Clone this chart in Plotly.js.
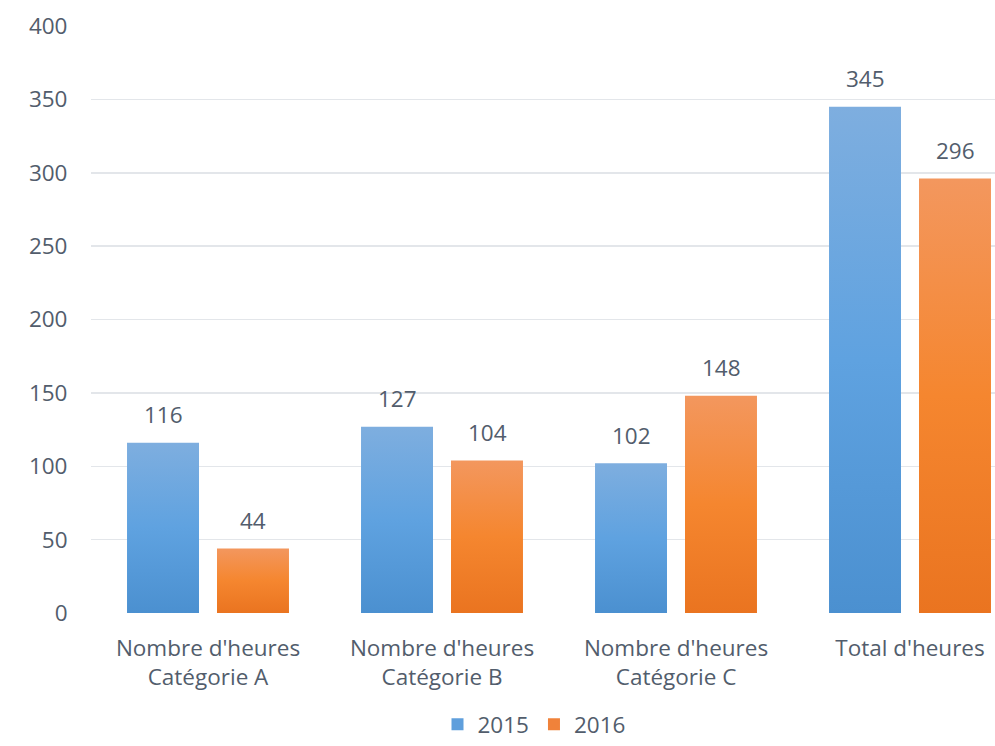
<!DOCTYPE html>
<html>
<head>
<meta charset="utf-8">
<script src="https://cdn.plot.ly/plotly-3.0.1.min.js"></script>
<style>
html, body { margin: 0; padding: 0; overflow: hidden; background: #fff; }
#chart { width: 1027px; height: 746px; }
</style>
</head>
<body>
<div id="chart"></div>
<script>
const categories = ["Nombre d'heures<br>Catégorie A", "Nombre d'heures<br>Catégorie B", "Nombre d'heures<br>Catégorie C", "Total d'heures"];
const seriesNames = ["2015", "2016"];
const values2015 = [116, 127, 102, 345];
const values2016 = [44, 104, 148, 296];
const yTicks = [0, 50, 100, 150, 200, 250, 300, 350, 400];

const textColor = '#525d6c';
const fontFamily = '"Open Sans", "Noto Sans", sans-serif';
const fs = 22.5;

const traces = [
  { type: 'bar', name: seriesNames[0], x: categories, y: values2015,
    marker: { color: '#5f9fdc' }, hoverinfo: 'y' },
  { type: 'bar', name: seriesNames[1], x: categories, y: values2016,
    marker: { color: '#f0823a' }, hoverinfo: 'y' }
];

const annotations = [];
[values2015, values2016].forEach((vals, si) => {
  vals.forEach((v, i) => {
    annotations.push({
      x: categories[i], y: v, xref: 'x', yref: 'y',
      text: String(v), showarrow: false,
      xshift: si === 0 ? -45 : 45, yshift: 28, yanchor: 'middle',
      font: { family: fontFamily, size: fs, color: textColor }
    });
  });
});

const layout = {
  width: 1027, height: 746,
  margin: { l: 91, r: 0, t: 26, b: 133 },
  paper_bgcolor: '#ffffff', plot_bgcolor: '#ffffff',
  barmode: 'group', bargap: 0.231, bargroupgap: 0.2,
  font: { family: fontFamily, size: fs, color: textColor },
  showlegend: true,
  legend: { orientation: 'h', x: 534 / 1027, xref: 'container', xanchor: 'center',
            y: 0, yref: 'container', yanchor: 'bottom',
            font: { family: fontFamily, size: fs, color: textColor } },
  xaxis: { type: 'category', range: [-0.5, 3.5], showgrid: false, zeroline: false,
           showline: false, ticks: 'outside', ticklen: 15, tickcolor: 'rgba(0,0,0,0)',
           tickfont: { family: fontFamily, size: fs, color: textColor }, fixedrange: true },
  yaxis: { range: [0, 400], tickvals: yTicks, ticktext: yTicks.map(String),
           showgrid: true, gridcolor: '#e3e6ea', gridwidth: 1.5,
           zeroline: false, showline: false, ticks: 'outside', ticklen: 18,
           tickcolor: 'rgba(0,0,0,0)',
           tickfont: { family: fontFamily, size: fs, color: textColor }, fixedrange: true },
  annotations: annotations
};

Plotly.newPlot('chart', traces, layout, { displayModeBar: false, staticPlot: true }).then(gd => {
  const svg = gd.querySelector('svg.main-svg');
  const ns = 'http://www.w3.org/2000/svg';
  let defs = svg.querySelector('defs');
  if (!defs) { defs = document.createElementNS(ns, 'defs'); svg.insertBefore(defs, svg.firstChild); }
  const grads = [
    { id: 'gradBlue', stops: [['0%', '#7eaedf'], ['50%', '#5fa2e0'], ['100%', '#4b90d0']] },
    { id: 'gradOrange', stops: [['0%', '#f3975e'], ['50%', '#f5862f'], ['100%', '#ea7420']] }
  ];
  grads.forEach(g => {
    const lg = document.createElementNS(ns, 'linearGradient');
    lg.setAttribute('id', g.id);
    lg.setAttribute('x1', '0'); lg.setAttribute('y1', '0');
    lg.setAttribute('x2', '0'); lg.setAttribute('y2', '1');
    g.stops.forEach(s => {
      const st = document.createElementNS(ns, 'stop');
      st.setAttribute('offset', s[0]);
      st.setAttribute('stop-color', s[1]);
      lg.appendChild(st);
    });
    defs.appendChild(lg);
  });
  const barTraces = gd.querySelectorAll('.barlayer .trace');
  barTraces.forEach((t, i) => {
    t.querySelectorAll('.point path').forEach(p => {
      p.style.fill = 'url(#' + grads[i].id + ')';
    });
  });
});
</script>
</body>
</html>
